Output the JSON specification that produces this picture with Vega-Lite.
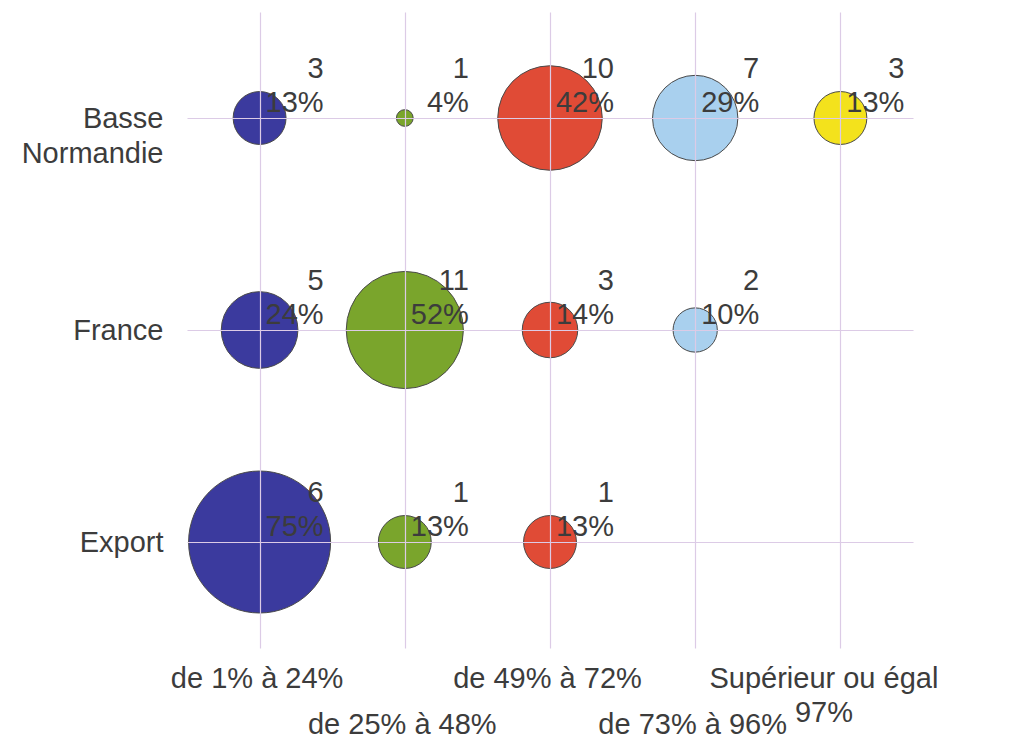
{
  "$schema": "https://vega.github.io/schema/vega-lite/v6.json",
  "width": 726,
  "height": 636,
  "autosize": {"type": "none"},
  "padding": {"left": 187, "top": 12, "right": 96, "bottom": 94},
  "background": "white",
  "config": {
    "view": {"stroke": null},
    "font": "Liberation Sans"
  },
  "data": {
    "values": [
      {"region": "Basse Normandie", "range": "de 1% à 24%", "n": 3, "pct": 0.13},
      {"region": "Basse Normandie", "range": "de 25% à 48%", "n": 1, "pct": 0.04},
      {"region": "Basse Normandie", "range": "de 49% à 72%", "n": 10, "pct": 0.42},
      {"region": "Basse Normandie", "range": "de 73% à 96%", "n": 7, "pct": 0.29},
      {"region": "Basse Normandie", "range": "Supérieur ou égal 97%", "n": 3, "pct": 0.13},
      {"region": "France", "range": "de 1% à 24%", "n": 5, "pct": 0.24},
      {"region": "France", "range": "de 25% à 48%", "n": 11, "pct": 0.52},
      {"region": "France", "range": "de 49% à 72%", "n": 3, "pct": 0.14},
      {"region": "France", "range": "de 73% à 96%", "n": 2, "pct": 0.10},
      {"region": "Export", "range": "de 1% à 24%", "n": 6, "pct": 0.75},
      {"region": "Export", "range": "de 25% à 48%", "n": 1, "pct": 0.13},
      {"region": "Export", "range": "de 49% à 72%", "n": 1, "pct": 0.13}
    ]
  },
  "encoding": {
    "x": {
      "field": "range",
      "type": "nominal",
      "sort": ["de 1% à 24%", "de 25% à 48%", "de 49% à 72%", "de 73% à 96%", "Supérieur ou égal 97%"],
      "scale": {"type": "point", "padding": 0.5, "domain": ["de 1% à 24%", "de 25% à 48%", "de 49% à 72%", "de 73% à 96%", "Supérieur ou égal 97%"]},
      "axis": {
        "title": null,
        "domain": false,
        "ticks": false,
        "grid": true,
        "gridColor": "#dccbe6",
        "gridWidth": 1.2,
        "zindex": 1,
        "labelAngle": 0,
        "labelFontSize": 29,
        "labelColor": "#3c3c3c",
        "labelBaseline": "top",
        "labelAlign": "center",
        "labelLineHeight": 34,
        "labelLimit": 0,
        "labelOverlap": false,
        "labelOffset": {"condition": {"test": "datum.value == 'Supérieur ou égal 97%'", "value": -17}, "value": -3},
        "labelPadding": {"condition": {"test": "datum.value == 'de 25% à 48%' || datum.value == 'de 73% à 96%'", "value": 62}, "value": 16},
        "labelExpr": "datum.value == 'Supérieur ou égal 97%' ? ['Supérieur ou égal', '97%'] : datum.label"
      }
    },
    "y": {
      "field": "region",
      "type": "nominal",
      "scale": {"type": "point", "padding": 0.5, "domain": ["Basse Normandie", "France", "Export"]},
      "axis": {
        "title": null,
        "domain": false,
        "ticks": false,
        "grid": true,
        "gridColor": "#dccbe6",
        "gridWidth": 1.2,
        "zindex": 1,
        "labelFontSize": 29,
        "labelColor": "#3c3c3c",
        "labelAlign": "right",
        "labelBaseline": "middle",
        "labelLineHeight": 35,
        "labelLimit": 0,
        "labelPadding": 24,
        "labelExpr": "datum.value == 'Basse Normandie' ? ['Basse', 'Normandie'] : datum.label"
      }
    }
  },
  "layer": [
    {
      "mark": {"type": "circle", "opacity": 1, "stroke": "#4a4a4a", "strokeWidth": 1},
      "encoding": {
        "size": {
          "field": "pct",
          "type": "quantitative",
          "scale": {"domain": [0.03, 0.75], "range": [0, 20164], "zero": false},
          "legend": null
        },
        "color": {
          "field": "range",
          "type": "nominal",
          "scale": {
            "domain": ["de 1% à 24%", "de 25% à 48%", "de 49% à 72%", "de 73% à 96%", "Supérieur ou égal 97%"],
            "range": ["#3b3a9e", "#7aa52c", "#e04b36", "#a9d0ee", "#f3e21c"]
          },
          "legend": null
        }
      }
    },
    {
      "mark": {"type": "text", "align": "right", "baseline": "alphabetic", "dx": 64, "dy": -40, "fontSize": 29, "color": "#3c3c3c"},
      "encoding": {
        "text": {"field": "n", "type": "quantitative"}
      }
    },
    {
      "mark": {"type": "text", "align": "right", "baseline": "alphabetic", "dx": 64, "dy": -6, "fontSize": 29, "color": "#3c3c3c"},
      "encoding": {
        "text": {"field": "pct", "type": "quantitative", "format": ".0%"}
      }
    }
  ]
}
